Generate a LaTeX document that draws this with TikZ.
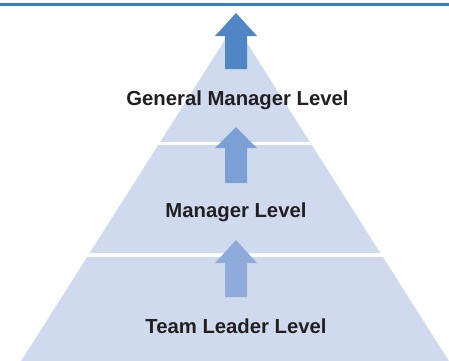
\documentclass[tikz,border=0pt]{standalone}
\usepackage{fontspec}
\setmainfont{Liberation Sans}
\definecolor{topline}{RGB}{52,128,198}
\definecolor{pyr}{RGB}{208,218,238}
\definecolor{arrA}{RGB}{80,134,198}
\definecolor{arrB}{RGB}{123,160,213}
\definecolor{arrC}{RGB}{143,171,219}
\definecolor{txt}{RGB}{35,31,32}
\tikzset{
  lvl/.style={font=\fontsize{20.3}{24}\selectfont\bfseries, text=txt, inner sep=0pt},
  gap/.style={draw=white, line width=3.5pt},
}
\newcommand{\uparr}[4]{% color, tip y, head base y, bottom y
  \fill[#1] (236,#2) -- (257,#3) -- (247,#3) -- (247,#4) -- (225,#4) -- (225,#3) -- (215,#3) -- cycle;}
\begin{document}
\begin{tikzpicture}[x=1pt,y=-1pt]
\useasboundingbox (0,0) rectangle (449,360);
\begin{scope}
\clip (0,0) rectangle (449,360);
\fill[pyr] (235,24) -- (449.5,362) -- (20.5,362) -- cycle;
\draw[gap] (0,143.5) -- (449,143.5);
\draw[gap] (0,255) -- (449,255);
\end{scope}
\draw[topline, line width=2.2pt] (0,4.5) -- (449,4.5);
\uparr{arrA}{13}{36}{69}
\uparr{arrB}{127}{148}{183}
\uparr{arrC}{240}{263}{297}
\node[lvl] (gm) at (237.5,100.5) {General Manager Level};
\node[lvl] (m) at (236,212.5) {Manager Level};
\node[lvl] (tl) at (236,325.8) {Team Leader Level};
\end{tikzpicture}
\end{document}
